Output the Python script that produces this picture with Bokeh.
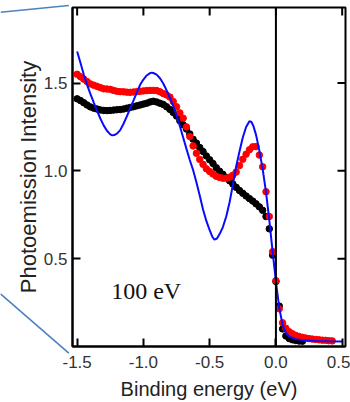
import math
from bokeh.plotting import figure
from bokeh.layouts import column
from bokeh.models import (Range1d, LinearAxis, FixedTicker, NumeralTickFormatter,
                          Span, Label, ColumnDataSource)
from bokeh.embed import file_html
from bokeh.resources import INLINE

# ---------------- data ----------------
energy_dots = [-1.500, -1.475, -1.450, -1.425, -1.400, -1.375, -1.350, -1.325, -1.300, -1.275,
               -1.250, -1.225, -1.200, -1.175, -1.150, -1.125, -1.100, -1.075, -1.050, -1.025,
               -1.000, -0.975, -0.950, -0.925, -0.900, -0.875, -0.850, -0.825, -0.800, -0.775,
               -0.750, -0.725, -0.700, -0.675, -0.650, -0.625, -0.600, -0.575, -0.550, -0.525,
               -0.500, -0.475, -0.450, -0.425, -0.400, -0.375, -0.350, -0.325, -0.300, -0.275,
               -0.250, -0.225, -0.200, -0.175, -0.150, -0.125, -0.100, -0.075, -0.050, -0.025,
               0.000, 0.025, 0.050, 0.075, 0.100, 0.125, 0.150, 0.175, 0.200, 0.225,
               0.250, 0.275, 0.300, 0.325, 0.350, 0.375, 0.400, 0.425]

red_intensity = [1.550, 1.536, 1.522, 1.508, 1.495, 1.488, 1.481, 1.474, 1.467, 1.466,
                 1.464, 1.458, 1.453, 1.451, 1.450, 1.448, 1.447, 1.449, 1.451, 1.453,
                 1.455, 1.457, 1.458, 1.458, 1.457, 1.450, 1.440, 1.432, 1.420, 1.395,
                 1.365, 1.330, 1.300, 1.250, 1.195, 1.142, 1.100, 1.065, 1.037, 1.012,
                 0.996, 0.982, 0.969, 0.962, 0.958, 0.958, 0.964, 0.975, 0.993, 1.030,
                 1.066, 1.095, 1.120, 1.137, 1.138, 1.090, 1.023, 0.881, 0.740, 0.540,
                 0.375, 0.215, 0.135, 0.104, 0.084, 0.072, 0.063, 0.057, 0.052, 0.048,
                 0.045, 0.042, 0.040, 0.038, 0.036, 0.035, 0.033, 0.032]

black_energy = [-1.500, -1.475, -1.450, -1.425, -1.400, -1.375, -1.350, -1.325, -1.300, -1.275,
                -1.250, -1.225, -1.200, -1.175, -1.150, -1.125, -1.100, -1.075, -1.050, -1.025,
                -1.000, -0.975, -0.950, -0.925, -0.900, -0.875, -0.850, -0.825, -0.800, -0.775,
                -0.750, -0.725, -0.700, -0.675, -0.650, -0.625, -0.600, -0.575, -0.550, -0.525,
                -0.500, -0.475, -0.450, -0.425, -0.400, -0.375, -0.350, -0.325, -0.300, -0.275,
                -0.250, -0.225, -0.200, -0.175, -0.150, -0.125, -0.100, -0.075, -0.050, -0.025,
                0.000, 0.025, 0.050, 0.075, 0.100, 0.125, 0.150, 0.175, 0.200]

black_intensity = [1.410, 1.400, 1.388, 1.375, 1.364, 1.357, 1.352, 1.347, 1.344, 1.343,
                   1.344, 1.346, 1.348, 1.349, 1.352, 1.357, 1.361, 1.365, 1.370, 1.375,
                   1.380, 1.385, 1.392, 1.396, 1.392, 1.385, 1.378, 1.365, 1.350, 1.332,
                   1.312, 1.285, 1.262, 1.238, 1.210, 1.180, 1.158, 1.133, 1.110, 1.085,
                   1.063, 1.042, 1.018, 0.998, 0.980, 0.962, 0.944, 0.925, 0.906, 0.888,
                   0.872, 0.857, 0.842, 0.828, 0.812, 0.795, 0.775, 0.740, 0.670, 0.520,
                   0.370, 0.230, 0.100, 0.060, 0.045, 0.038, 0.034, 0.031, 0.030]

blue_energy = [-1.500, -1.475, -1.450, -1.425, -1.400, -1.375, -1.350, -1.325, -1.300, -1.275,
               -1.250, -1.235, -1.220, -1.200, -1.175, -1.150, -1.125, -1.100, -1.075, -1.050,
               -1.025, -1.000, -0.975, -0.950, -0.937, -0.925, -0.900, -0.875, -0.850, -0.825,
               -0.800, -0.775, -0.750, -0.725, -0.700, -0.675, -0.650, -0.625, -0.600, -0.575,
               -0.550, -0.525, -0.500, -0.480, -0.464, -0.445, -0.425, -0.400, -0.375, -0.350,
               -0.325, -0.300, -0.275, -0.250, -0.225, -0.200, -0.185, -0.170, -0.150, -0.125,
               -0.100, -0.075, -0.050, -0.025, 0.000, 0.025, 0.050, 0.075, 0.100, 0.150,
               0.200, 0.300, 0.400, 0.500]

blue_intensity = [1.680, 1.615, 1.548, 1.490, 1.438, 1.390, 1.343, 1.298, 1.259, 1.228,
                  1.208, 1.202, 1.204, 1.212, 1.232, 1.268, 1.310, 1.355, 1.400, 1.446,
                  1.490, 1.520, 1.543, 1.556, 1.559, 1.557, 1.548, 1.527, 1.497, 1.458,
                  1.415, 1.370, 1.315, 1.255, 1.190, 1.125, 1.062, 1.005, 0.935, 0.860,
                  0.780, 0.715, 0.662, 0.625, 0.608, 0.615, 0.640, 0.680, 0.740, 0.820,
                  0.920, 1.025, 1.110, 1.190, 1.250, 1.283, 1.278, 1.255, 1.205, 1.115,
                  1.010, 0.880, 0.720, 0.540, 0.370, 0.220, 0.125, 0.078, 0.056, 0.042,
                  0.036, 0.032, 0.030, 0.029]

x_ticks = [-1.5, -1.0, -0.5, 0.0, 0.5]
x_tick_labels = ["-1.5", "-1.0", "-0.5", "0.0", "0.5"]
y_ticks = [0.5, 1.0, 1.5]
y_tick_labels = ["0.5", "1.0", "1.5"]

# ---------------- figure ----------------
W, H = 350, 402
X0, X1 = -1.535, 0.525
Y0, Y1 = 0.0, 1.93
FL, FR, FT, FB = 72, 345, 7, 347  # frame edges in pixels

p = figure(width=W, height=H, output_backend="svg", toolbar_location=None,
           x_range=Range1d(X0, X1), y_range=Range1d(Y0, Y1),
           min_border_left=FL, min_border_right=W - FR, min_border_top=FT,
           min_border_bottom=H - FB, x_axis_location=None, y_axis_location=None)
p.frame_align = False
p.grid.visible = False
p.outline_line_color = "black"
p.outline_line_width = 2
p.background_fill_color = "white"
p.border_fill_color = "white"


def style_axis(ax, ticks, labels):
    ax.ticker = FixedTicker(ticks=ticks)
    ax.formatter = NumeralTickFormatter(format="0.0")
    ax.major_label_overrides = {t: l for t, l in zip(ticks, labels)}
    ax.axis_line_color = "black"
    ax.axis_line_width = 2
    ax.major_tick_line_color = "black"
    ax.major_tick_line_width = 2
    ax.major_tick_in = 8
    ax.major_tick_out = 0
    ax.minor_tick_line_color = None
    ax.major_label_text_font = "Liberation Sans"
    ax.major_label_text_font_size = "17px"
    ax.major_label_text_color = "#333333"


bottom = LinearAxis(axis_label="Binding energy (eV)")
style_axis(bottom, x_ticks, x_tick_labels)
bottom.major_label_standoff = 9
bottom.axis_label_standoff = 7
bottom.axis_label_text_font = "Liberation Sans"
bottom.axis_label_text_font_size = "20px"
bottom.axis_label_text_font_style = "normal"
bottom.axis_label_text_color = "#222222"
p.add_layout(bottom, "below")

left = LinearAxis(axis_label="Photoemission Intensity")
style_axis(left, y_ticks, y_tick_labels)
left.major_label_standoff = 5
left.axis_label_standoff = 0
left.axis_label_text_font = "Liberation Sans"
left.axis_label_text_font_size = "22px"
left.axis_label_text_font_style = "normal"
left.axis_label_text_color = "#222222"
p.add_layout(left, "left")

# mirrored inward ticks on the top and right edges
p.ray(x=x_ticks, y=[Y1] * len(x_ticks), length=8, length_units="screen",
      angle=-math.pi / 2, line_color="black", line_width=2)
p.ray(x=[X1] * len(y_ticks), y=y_ticks, length=8, length_units="screen",
      angle=math.pi, line_color="black", line_width=2)

# Fermi level marker
p.add_layout(Span(location=0.0, dimension="height", line_color="black", line_width=2))

# data
black_src = ColumnDataSource(dict(x=black_energy, y=black_intensity))
red_src = ColumnDataSource(dict(x=energy_dots, y=red_intensity))
blue_src = ColumnDataSource(dict(x=blue_energy, y=blue_intensity))

p.scatter("x", "y", source=black_src, size=6.5, fill_color="black", line_color="black")
p.scatter("x", "y", source=red_src, size=6.5, fill_color="#ff0000", line_color="#ff0000")
p.line("x", "y", source=blue_src, line_color="#0a0aff", line_width=2)

p.add_layout(Label(x=-1.243, y=0.317, text="100 eV", text_font="Liberation Serif",
                   text_font_size="24px", text_color="#111111", text_baseline="alphabetic"))

# ---------------- transparent overlay with the callout lines ----------------
deco = figure(width=W, height=H, output_backend="svg", toolbar_location=None,
              x_range=Range1d(0, W), y_range=Range1d(H, 0),
              min_border=0, x_axis_location=None, y_axis_location=None,
              margin=(-H, 0, 0, 0))
deco.frame_align = False
deco.grid.visible = False
deco.outline_line_color = None
deco.background_fill_alpha = 0
deco.border_fill_alpha = 0
callout_xs = [[0, 68.3], [0, 68.3]]
callout_ys = [[11.7, 5.0], [293.3, 352.7]]
deco.multi_line(callout_xs, callout_ys, line_color="#4f81bd", line_width=1.6)

layout = column(p, deco, spacing=0)
open("out.html", "w").write(file_html(layout, INLINE))
